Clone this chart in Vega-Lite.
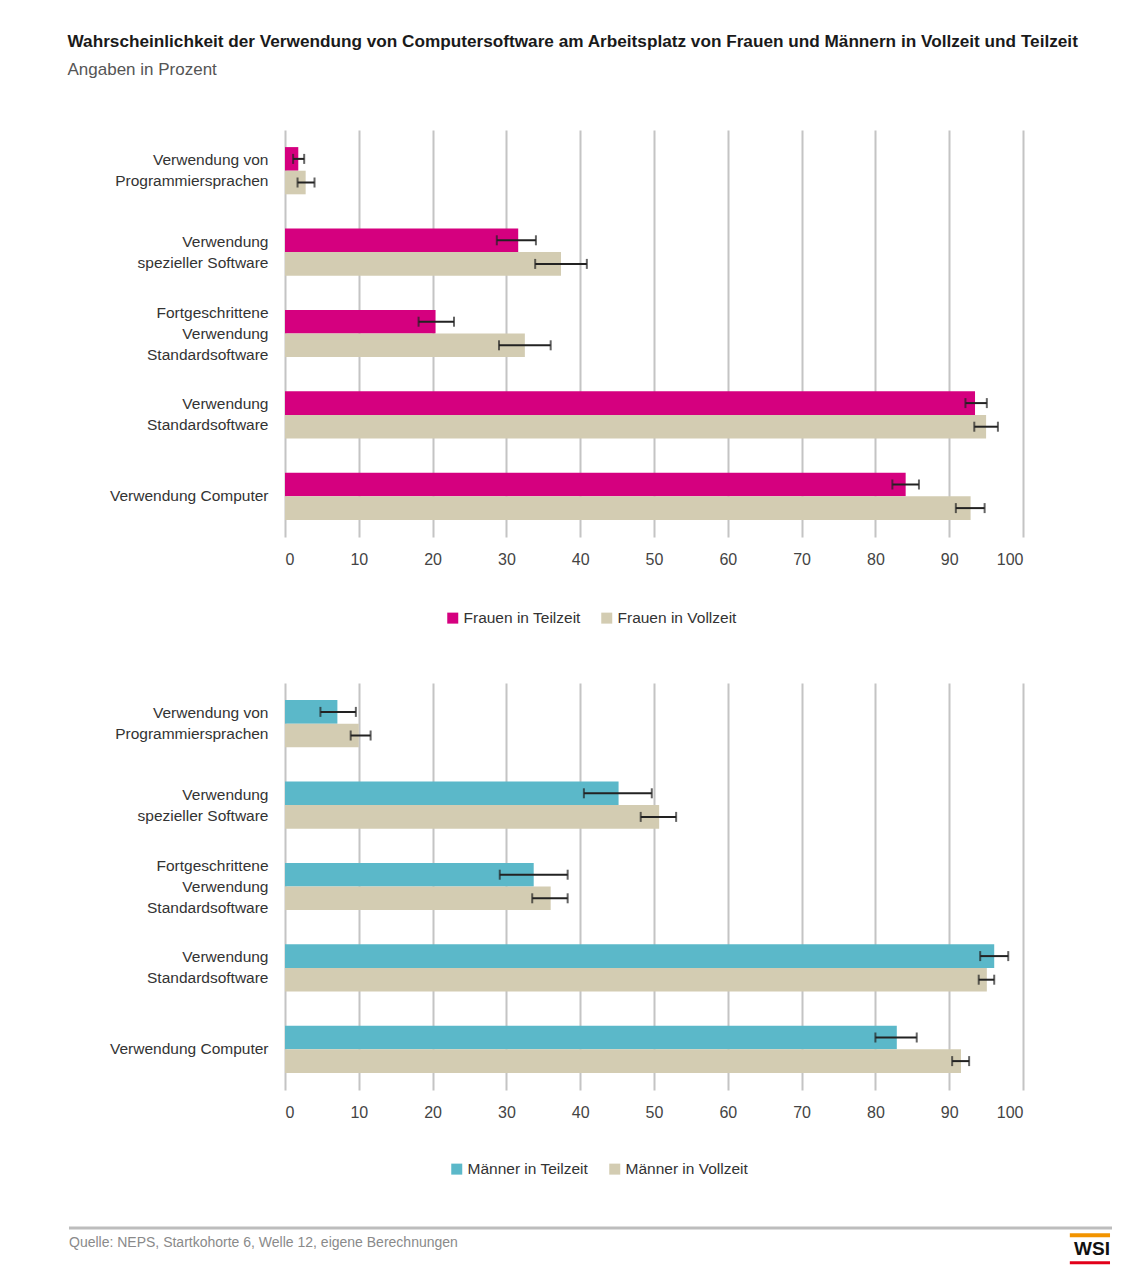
{
  "$schema": "https://vega.github.io/schema/vega-lite/v6.json",
  "padding": {"left": 67, "top": 32, "right": 5, "bottom": 5},
  "config": {
    "font": "Liberation Sans, Arial, sans-serif",
    "view": {"stroke": null},
    "axis": {"labelFont": "Liberation Sans, Arial, sans-serif"},
    "legend": {"labelFont": "Liberation Sans, Arial, sans-serif"}
  },
  "title": {
    "text": "Wahrscheinlichkeit der Verwendung von Computersoftware am Arbeitsplatz von Frauen und Männern in Vollzeit und Teilzeit",
    "subtitle": "Angaben in Prozent",
    "anchor": "start",
    "font": "Liberation Sans, Arial, sans-serif",
    "subtitleFont": "Liberation Sans, Arial, sans-serif",
    "fontSize": 17.2,
    "fontWeight": "bold",
    "color": "#1a1a1a",
    "subtitleFontSize": 17,
    "subtitleColor": "#555555",
    "subtitlePadding": 12,
    "offset": 52
  },
  "datasets": {
    "frauen": [
      {"kategorie": "Verwendung von|Programmiersprachen", "serie": "Frauen in Teilzeit", "wert": 1.8, "unten": 1.1, "oben": 2.6},
      {"kategorie": "Verwendung von|Programmiersprachen", "serie": "Frauen in Vollzeit", "wert": 2.8, "unten": 1.7, "oben": 4.0},
      {"kategorie": "Verwendung|spezieller Software", "serie": "Frauen in Teilzeit", "wert": 31.6, "unten": 28.7, "oben": 34.0},
      {"kategorie": "Verwendung|spezieller Software", "serie": "Frauen in Vollzeit", "wert": 37.4, "unten": 33.9, "oben": 40.9},
      {"kategorie": "Fortgeschrittene|Verwendung|Standardsoftware", "serie": "Frauen in Teilzeit", "wert": 20.4, "unten": 18.1, "oben": 22.9},
      {"kategorie": "Fortgeschrittene|Verwendung|Standardsoftware", "serie": "Frauen in Vollzeit", "wert": 32.5, "unten": 29.0, "oben": 36.0},
      {"kategorie": "Verwendung|Standardsoftware", "serie": "Frauen in Teilzeit", "wert": 93.5, "unten": 92.2, "oben": 95.1},
      {"kategorie": "Verwendung|Standardsoftware", "serie": "Frauen in Vollzeit", "wert": 95.0, "unten": 93.4, "oben": 96.6},
      {"kategorie": "Verwendung Computer", "serie": "Frauen in Teilzeit", "wert": 84.1, "unten": 82.3, "oben": 85.9},
      {"kategorie": "Verwendung Computer", "serie": "Frauen in Vollzeit", "wert": 92.9, "unten": 90.9, "oben": 94.8}
    ],
    "maenner": [
      {"kategorie": "Verwendung von|Programmiersprachen", "serie": "Männer in Teilzeit", "wert": 7.1, "unten": 4.8, "oben": 9.6},
      {"kategorie": "Verwendung von|Programmiersprachen", "serie": "Männer in Vollzeit", "wert": 10.0, "unten": 8.9, "oben": 11.6},
      {"kategorie": "Verwendung|spezieller Software", "serie": "Männer in Teilzeit", "wert": 45.2, "unten": 40.5, "oben": 49.7},
      {"kategorie": "Verwendung|spezieller Software", "serie": "Männer in Vollzeit", "wert": 50.7, "unten": 48.2, "oben": 53.0},
      {"kategorie": "Fortgeschrittene|Verwendung|Standardsoftware", "serie": "Männer in Teilzeit", "wert": 33.7, "unten": 29.1, "oben": 38.3},
      {"kategorie": "Fortgeschrittene|Verwendung|Standardsoftware", "serie": "Männer in Vollzeit", "wert": 36.0, "unten": 33.5, "oben": 38.3},
      {"kategorie": "Verwendung|Standardsoftware", "serie": "Männer in Teilzeit", "wert": 96.1, "unten": 94.2, "oben": 98.0},
      {"kategorie": "Verwendung|Standardsoftware", "serie": "Männer in Vollzeit", "wert": 95.1, "unten": 94.0, "oben": 96.1},
      {"kategorie": "Verwendung Computer", "serie": "Männer in Teilzeit", "wert": 82.9, "unten": 80.0, "oben": 85.6},
      {"kategorie": "Verwendung Computer", "serie": "Männer in Vollzeit", "wert": 91.6, "unten": 90.4, "oben": 92.7}
    ],
    "fuss": [
      {"quelle": "Quelle: NEPS, Startkohorte 6, Welle 12, eigene Berechnungen", "logo": "WSI"}
    ]
  },
  "vconcat": [
    {
      "spacing": 56,
      "resolve": {"scale": {"color": "independent", "yOffset": "independent"}, "legend": {"color": "independent"}},
      "vconcat": [
        {
          "width": 738,
          "height": 407,
          "data": {"name": "frauen"},
          "encoding": {
            "y": {
              "field": "kategorie", "type": "nominal",
              "sort": ["Verwendung von|Programmiersprachen", "Verwendung|spezieller Software", "Fortgeschrittene|Verwendung|Standardsoftware", "Verwendung|Standardsoftware", "Verwendung Computer"],
              "scale": {"paddingInner": 0.42, "paddingOuter": 0.21},
              "axis": {"title": null, "labelExpr": "split(datum.label, '|')", "labelLineHeight": 21, "labelFontSize": 15.5, "labelColor": "#333333", "labelPadding": 17, "ticks": false, "domain": false, "minExtent": 216, "labelLimit": 300,
                "labelOffset": {"condition": [{"test": "length(split(datum.value, '|')) == 3", "value": -21}, {"test": "length(split(datum.value, '|')) == 2", "value": -10.5}], "value": 0}}
            },
            "yOffset": {"field": "serie", "type": "nominal", "sort": ["Frauen in Teilzeit", "Frauen in Vollzeit"]}
          },
          "layer": [
            {
              "mark": {"type": "bar"},
              "encoding": {
                "x": {"field": "wert", "type": "quantitative", "scale": {"domain": [0, 100], "nice": false},
                  "axis": {"title": null, "values": [0, 10, 20, 30, 40, 50, 60, 70, 80, 90, 100], "grid": true, "gridColor": "#c4c4c4", "gridWidth": 2, "ticks": false, "domain": false, "labelFontSize": 16, "labelColor": "#444444", "labelPadding": 14}},
                "color": {"field": "serie", "type": "nominal",
                  "scale": {"domain": ["Frauen in Teilzeit", "Frauen in Vollzeit"], "range": ["#d5007f", "#d3ccb2"]},
                  "legend": {"title": null, "orient": "none", "legendX": 160, "legendY": 480, "direction": "horizontal", "symbolType": "square", "symbolSize": 121, "symbolStrokeWidth": 0, "labelFontSize": 15.5, "labelColor": "#333333", "columnPadding": 18, "labelOffset": 3}}
              }
            },
            {
              "mark": {"type": "rule", "color": "#222222", "strokeWidth": 2},
              "encoding": {"x": {"field": "unten", "type": "quantitative", "title": null}, "x2": {"field": "oben"}}
            },
            {
              "mark": {"type": "tick", "orient": "vertical", "size": 10, "thickness": 2, "color": "#222222"},
              "encoding": {"x": {"field": "unten", "type": "quantitative", "title": null}}
            },
            {
              "mark": {"type": "tick", "orient": "vertical", "size": 10, "thickness": 2, "color": "#222222"},
              "encoding": {"x": {"field": "oben", "type": "quantitative", "title": null}}
            }
          ]
        },
        {
          "width": 738,
          "height": 407,
          "data": {"name": "maenner"},
          "encoding": {
            "y": {
              "field": "kategorie", "type": "nominal",
              "sort": ["Verwendung von|Programmiersprachen", "Verwendung|spezieller Software", "Fortgeschrittene|Verwendung|Standardsoftware", "Verwendung|Standardsoftware", "Verwendung Computer"],
              "scale": {"paddingInner": 0.42, "paddingOuter": 0.21},
              "axis": {"title": null, "labelExpr": "split(datum.label, '|')", "labelLineHeight": 21, "labelFontSize": 15.5, "labelColor": "#333333", "labelPadding": 17, "ticks": false, "domain": false, "minExtent": 216, "labelLimit": 300,
                "labelOffset": {"condition": [{"test": "length(split(datum.value, '|')) == 3", "value": -21}, {"test": "length(split(datum.value, '|')) == 2", "value": -10.5}], "value": 0}}
            },
            "yOffset": {"field": "serie", "type": "nominal", "sort": ["Männer in Teilzeit", "Männer in Vollzeit"]}
          },
          "layer": [
            {
              "mark": {"type": "bar"},
              "encoding": {
                "x": {"field": "wert", "type": "quantitative", "scale": {"domain": [0, 100], "nice": false},
                  "axis": {"title": null, "values": [0, 10, 20, 30, 40, 50, 60, 70, 80, 90, 100], "grid": true, "gridColor": "#c4c4c4", "gridWidth": 2, "ticks": false, "domain": false, "labelFontSize": 16, "labelColor": "#444444", "labelPadding": 14}},
                "color": {"field": "serie", "type": "nominal",
                  "scale": {"domain": ["Männer in Teilzeit", "Männer in Vollzeit"], "range": ["#5bb8c9", "#d3ccb2"]},
                  "legend": {"title": null, "orient": "none", "legendX": 164, "legendY": 478, "direction": "horizontal", "symbolType": "square", "symbolSize": 121, "symbolStrokeWidth": 0, "labelFontSize": 15.5, "labelColor": "#333333", "columnPadding": 18, "labelOffset": 3}}
              }
            },
            {
              "mark": {"type": "rule", "color": "#222222", "strokeWidth": 2},
              "encoding": {"x": {"field": "unten", "type": "quantitative", "title": null}, "x2": {"field": "oben"}}
            },
            {
              "mark": {"type": "tick", "orient": "vertical", "size": 10, "thickness": 2, "color": "#222222"},
              "encoding": {"x": {"field": "unten", "type": "quantitative", "title": null}}
            },
            {
              "mark": {"type": "tick", "orient": "vertical", "size": 10, "thickness": 2, "color": "#222222"},
              "encoding": {"x": {"field": "oben", "type": "quantitative", "title": null}}
            }
          ]
        }
      ]
    },
    {
      "width": 827,
      "height": 40,
      "data": {"name": "fuss"},
      "layer": [
        {
          "mark": {"type": "rule", "color": "#bdbdbd", "strokeWidth": 3},
          "encoding": {
            "x": {"datum": -0.2612, "type": "quantitative", "scale": {"domain": [0, 1]}, "axis": null},
            "x2": {"datum": 1},
            "y": {"datum": 1, "type": "quantitative", "scale": {"domain": [0, 1]}, "axis": null}
          }
        },
        {
          "mark": {"type": "text", "align": "left", "baseline": "middle", "fontSize": 14, "color": "#8a8a8a"},
          "encoding": {
            "x": {"datum": -0.2612, "type": "quantitative"},
            "y": {"datum": 0.63, "type": "quantitative"},
            "text": {"field": "quelle"}
          }
        },
        {
          "mark": {"type": "text", "align": "right", "baseline": "middle", "fontSize": 19, "fontWeight": "bold", "color": "#111111"},
          "encoding": {
            "x": {"datum": 0.9976, "type": "quantitative"},
            "y": {"datum": 0.47, "type": "quantitative"},
            "text": {"field": "logo"}
          }
        },
        {
          "mark": {"type": "rule", "color": "#f29400", "strokeWidth": 4},
          "encoding": {
            "x": {"datum": 0.949, "type": "quantitative"},
            "x2": {"datum": 0.9976},
            "y": {"datum": 0.82, "type": "quantitative"}
          }
        },
        {
          "mark": {"type": "rule", "color": "#e2001a", "strokeWidth": 3},
          "encoding": {
            "x": {"datum": 0.949, "type": "quantitative"},
            "x2": {"datum": 0.9976},
            "y": {"datum": 0.13, "type": "quantitative"}
          }
        }
      ]
    }
  ],
  "spacing": 48
}
